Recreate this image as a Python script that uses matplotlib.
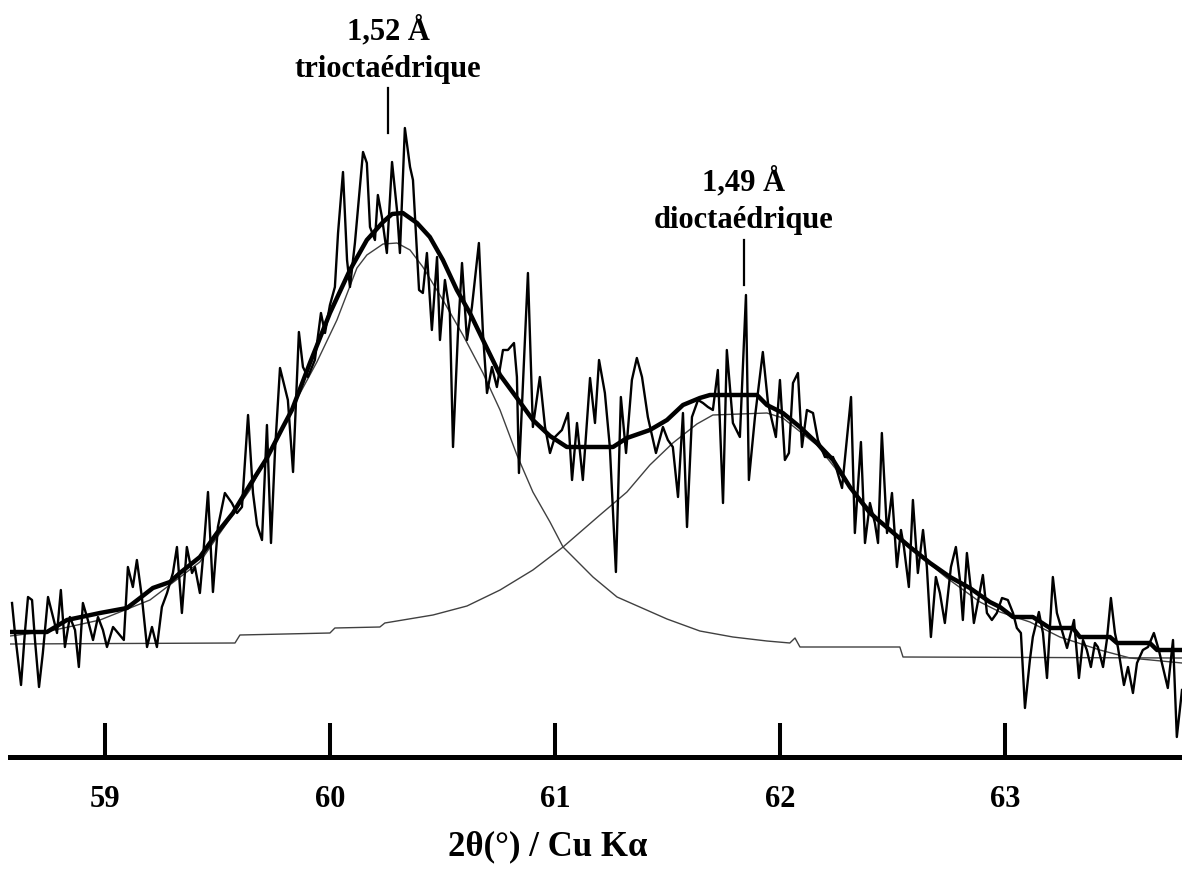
import matplotlib
matplotlib.use("Agg")
import matplotlib.pyplot as plt

# measured XRD trace (2theta in degrees, intensity in arbitrary units)
two_theta = [58.587, 58.600, 58.627, 58.644, 58.658, 58.676, 58.689, 58.707, 58.724, 58.747,
             58.769, 58.787, 58.804, 58.822, 58.844, 58.867, 58.884, 58.902, 58.924, 58.947,
             58.969, 58.991, 59.009, 59.036, 59.058, 59.084, 59.102, 59.124, 59.142, 59.164,
             59.187, 59.209, 59.231, 59.253, 59.276, 59.302, 59.320, 59.342, 59.364, 59.387,
             59.400, 59.422, 59.436, 59.458, 59.480, 59.502, 59.533, 59.564, 59.587, 59.609,
             59.636, 59.658, 59.676, 59.698, 59.720, 59.738, 59.756, 59.778, 59.813, 59.836,
             59.862, 59.880, 59.902, 59.933, 59.960, 59.978, 60.000, 60.022, 60.036, 60.058,
             60.076, 60.089, 60.111, 60.124, 60.147, 60.164, 60.178, 60.200, 60.213, 60.231,
             60.253, 60.276, 60.298, 60.311, 60.333, 60.356, 60.369, 60.382, 60.396, 60.413,
             60.431, 60.453, 60.476, 60.489, 60.511, 60.533, 60.547, 60.569, 60.587, 60.609,
             60.631, 60.662, 60.680, 60.698, 60.720, 60.742, 60.769, 60.791, 60.818, 60.831,
             60.840, 60.858, 60.880, 60.902, 60.933, 60.956, 60.978, 61.000, 61.031, 61.058,
             61.076, 61.098, 61.124, 61.156, 61.178, 61.196, 61.222, 61.244, 61.271, 61.293,
             61.316, 61.342, 61.364, 61.387, 61.413, 61.449, 61.480, 61.502, 61.524, 61.547,
             61.569, 61.587, 61.609, 61.636, 61.658, 61.680, 61.702, 61.724, 61.747, 61.764,
             61.791, 61.822, 61.849, 61.862, 61.889, 61.924, 61.947, 61.964, 61.982, 62.000,
             62.022, 62.040, 62.058, 62.080, 62.098, 62.120, 62.147, 62.169, 62.200, 62.236,
             62.276, 62.316, 62.333, 62.360, 62.378, 62.400, 62.422, 62.436, 62.453, 62.476,
             62.498, 62.520, 62.538, 62.551, 62.573, 62.591, 62.613, 62.636, 62.653, 62.671,
             62.693, 62.711, 62.733, 62.760, 62.782, 62.800, 62.813, 62.831, 62.849, 62.862,
             62.884, 62.902, 62.920, 62.942, 62.964, 62.987, 63.013, 63.036, 63.053, 63.071,
             63.089, 63.111, 63.124, 63.151, 63.169, 63.187, 63.213, 63.231, 63.253, 63.276,
             63.307, 63.329, 63.347, 63.364, 63.382, 63.400, 63.413, 63.436, 63.453, 63.471,
             63.489, 63.502, 63.529, 63.547, 63.569, 63.587, 63.613, 63.636, 63.662, 63.684,
             63.702, 63.724, 63.747, 63.764, 63.787]
counts = [154, 124, 72, 124, 160, 157, 117, 70, 104, 160,
          140, 124, 167, 110, 140, 127, 90, 154, 137, 117,
          140, 127, 110, 130, 124, 117, 190, 170, 197, 160,
          110, 130, 110, 150, 164, 184, 210, 144, 210, 184,
          190, 164, 200, 265, 165, 230, 264, 254, 244, 250,
          342, 264, 232, 217, 332, 214, 307, 389, 357, 285,
          425, 390, 380, 397, 444, 424, 452, 470, 524, 585,
          497, 470, 514, 547, 605, 594, 530, 517, 562, 540,
          504, 595, 547, 504, 629, 590, 577, 524, 467, 464,
          504, 427, 500, 417, 477, 444, 310, 424, 494, 417,
          450, 514, 424, 364, 390, 370, 407, 407, 414, 380,
          284, 374, 484, 330, 380, 330, 304, 320, 327, 344,
          277, 334, 277, 379, 334, 397, 364, 310, 185, 360,
          304, 377, 399, 380, 340, 304, 330, 317, 310, 260,
          344, 230, 340, 357, 354, 350, 347, 387, 254, 407,
          334, 320, 462, 277, 340, 405, 354, 337, 320, 377,
          297, 304, 374, 384, 310, 347, 344, 317, 300, 300,
          269, 360, 224, 315, 214, 254, 234, 214, 324, 224,
          264, 190, 227, 210, 170, 257, 184, 227, 190, 120,
          180, 164, 134, 190, 210, 177, 137, 204, 167, 134,
          160, 182, 144, 137, 144, 159, 157, 144, 129, 124,
          49, 97, 120, 145, 124, 79, 180, 144, 127, 109,
          137, 79, 117, 107, 90, 114, 110, 90, 117, 159,
          124, 110, 72, 90, 64, 94, 107, 110, 124, 107,
          90, 69, 117, 20, 67]

# total fitted profile (thick line)
fit_theta = [58.578, 58.742, 58.831, 58.978, 59.098, 59.156, 59.213, 59.289, 59.333, 59.422,
             59.498, 59.569, 59.644, 59.720, 59.791, 59.831, 59.911, 60.000, 60.089, 60.164,
             60.236, 60.276, 60.324, 60.387, 60.444, 60.502, 60.564, 60.622, 60.680, 60.756,
             60.831, 60.902, 60.978, 61.053, 61.258, 61.320, 61.422, 61.498, 61.569, 61.644,
             61.689, 61.898, 61.942, 62.013, 62.089, 62.164, 62.236, 62.311, 62.400, 62.489,
             62.578, 62.667, 62.756, 62.844, 62.933, 62.978, 63.036, 63.124, 63.200, 63.302,
             63.333, 63.467, 63.498, 63.644, 63.676, 63.787]
fit_total = [125, 125, 137, 144, 149, 159, 169, 175, 184, 200,
             224, 244, 272, 299, 330, 347, 394, 444, 487, 517,
             535, 543, 544, 534, 520, 497, 467, 444, 417, 382,
             359, 337, 321, 310, 310, 319, 327, 337, 352, 359,
             362, 362, 352, 344, 330, 314, 297, 270, 244, 227,
             210, 194, 180, 169, 155, 150, 140, 140, 129, 129,
             120, 120, 114, 114, 107, 107]

# trioctahedral component (1,52 A)
tri_theta = [58.578, 58.756, 58.978, 59.200, 59.422, 59.644, 59.822, 59.942, 60.031, 60.120,
             60.164, 60.236, 60.298, 60.356, 60.413, 60.502, 60.591, 60.680, 60.756, 60.831,
             60.902, 60.978, 61.036, 61.169, 61.276, 61.498, 61.644, 61.791, 61.942, 62.044,
             62.067, 62.089, 62.533, 62.547, 63.787]
tri_counts = [121, 126, 137, 157, 195, 267, 345, 395, 437, 489,
              502, 513, 514, 507, 490, 457, 422, 384, 347, 302,
              265, 235, 210, 180, 160, 138, 126, 120, 116, 114,
              119, 110, 110, 100, 99]

# dioctahedral component (1,49 A)
di_theta = [58.578, 59.578, 59.600, 60.000, 60.022, 60.222, 60.244, 60.458, 60.609, 60.756,
            60.902, 61.036, 61.200, 61.320, 61.422, 61.524, 61.631, 61.702, 61.942, 62.013,
            62.164, 62.298, 62.444, 62.591, 62.742, 62.889, 62.978, 63.111, 63.244, 63.422,
            63.556, 63.787]
di_counts = [113, 114, 122, 124, 129, 130, 134, 142, 151, 167,
             187, 210, 242, 265, 292, 314, 333, 342, 344, 339,
             312, 274, 236, 207, 179, 155, 145, 135, 120, 107,
             99, 94]

x_ticks = [59, 60, 61, 62, 63]
peak_labels = [("1,52 Å", "trioctaédrique", 60.258, 718, 680, 669, 624),
               ("1,49 Å", "dioctaédrique", 61.840, 567, 529, 517, 472)]

plt.rcParams['font.family'] = ['Liberation Serif', 'DejaVu Serif']
plt.rcParams['font.weight'] = 'bold'

fig = plt.figure(figsize=(11.82, 8.72), dpi=100)
ax = fig.add_axes([10 / 1182, 115 / 872, 1172 / 1182, 757 / 872])

ax.plot(tri_theta, tri_counts, color='0.25', lw=1.0)
ax.plot(di_theta, di_counts, color='0.25', lw=1.0)
ax.plot(two_theta, counts, color='black', lw=1.7)
ax.plot(fit_theta, fit_total, color='black', lw=3.2)

for top, bottom, xpos, y1, y2, l1, l2 in peak_labels:
    ax.text(xpos, y1, top, ha='center', va='baseline', fontsize=22, fontweight='bold')
    ax.text(xpos, y2, bottom, ha='center', va='baseline', fontsize=22, fontweight='bold')
    ax.plot([xpos, xpos], [l1, l2], color='black', lw=1.6)

ax.set_xlim(58.578, 63.787)
ax.set_ylim(0, 757)
for s in ['top', 'left', 'right']:
    ax.spines[s].set_visible(False)
ax.spines['bottom'].set_linewidth(3.6)
ax.set_yticks([])
ax.set_xticks(x_ticks)
ax.set_xticklabels([str(t) for t in x_ticks])
ax.tick_params(axis='x', direction='in', length=24.5, width=2.9, pad=20, labelsize=22)
for lab in ax.get_xticklabels():
    lab.set_fontweight('bold')
ax.patch.set_visible(False)

fig.text(548 / 1182, 17 / 872, "2θ(°) / Cu Kα", ha='center', va='baseline',
         fontsize=25, fontweight='bold')

fig.savefig("out.png", dpi=100)
